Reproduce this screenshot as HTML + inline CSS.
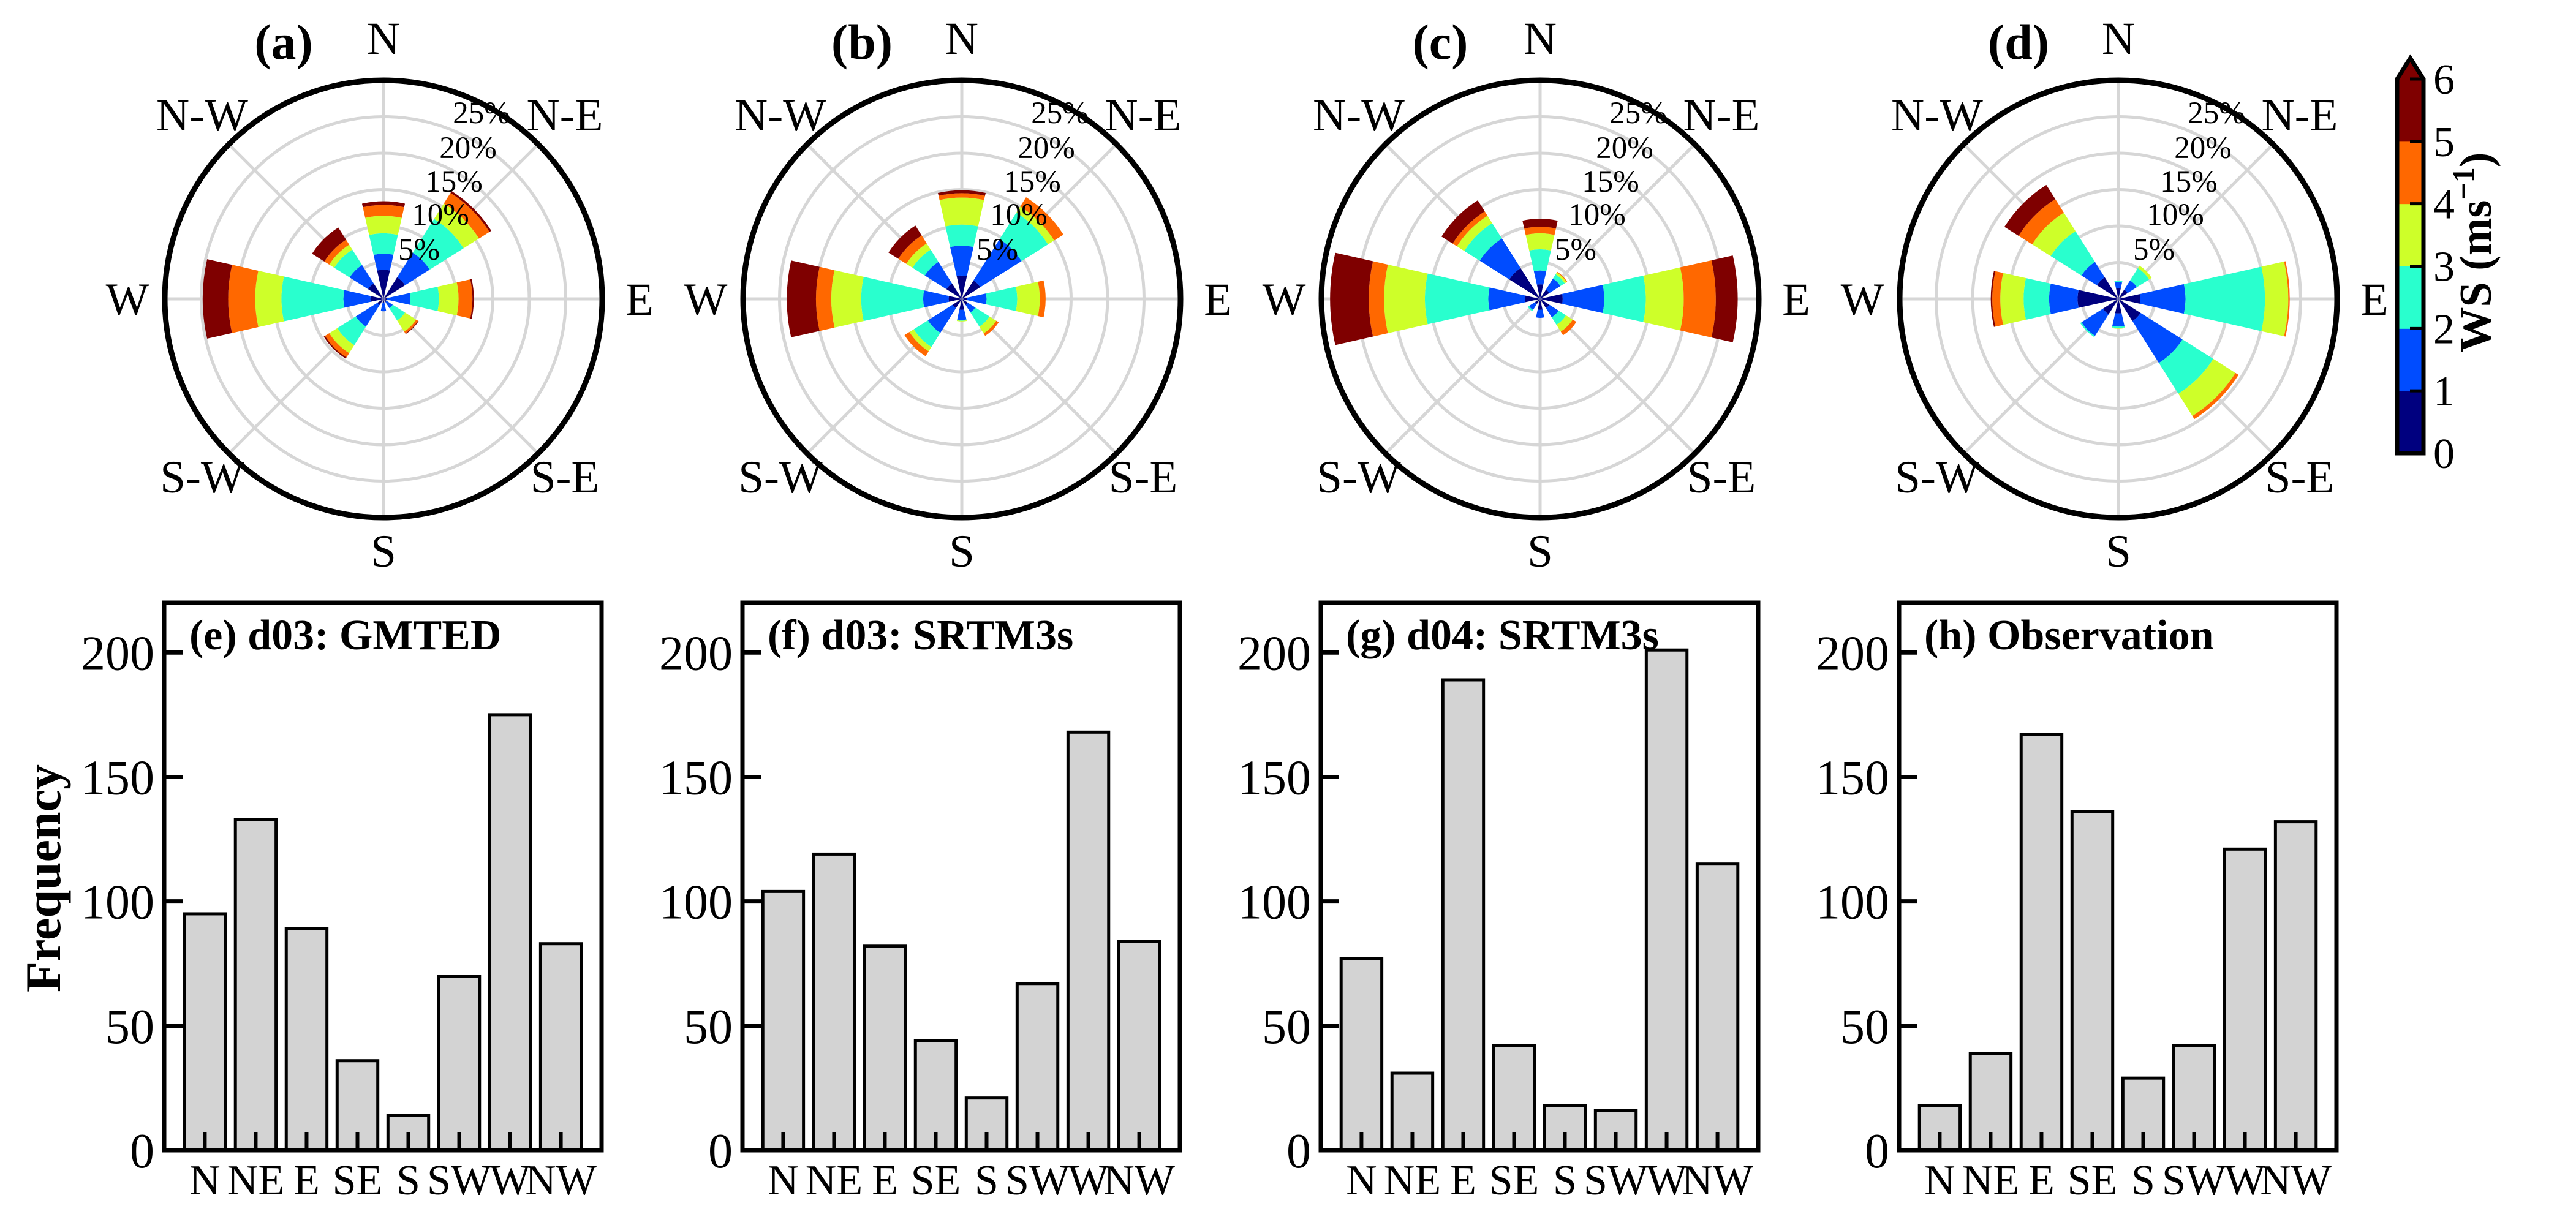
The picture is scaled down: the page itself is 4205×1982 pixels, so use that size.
<!DOCTYPE html>
<html><head><meta charset="utf-8">
<style>
html,body{margin:0;padding:0;background:#fff;}
svg{display:block;}
text{font-family:"Liberation Serif",serif;fill:#000;}
</style></head>
<body>
<svg id="fig" xmlns="http://www.w3.org/2000/svg" width="4205" height="1982" viewBox="0 0 4205 1982"></svg>
<script>
const directions = ['N','NE','E','SE','S','SW','W','NW'];
const compassLabels = ['N','N-E','E','S-E','S','S-W','W','N-W'];
const speedBins = [0,1,2,3,4,5,6];
const binColors = ['#00007f','#004cff','#29ffce','#ceff29','#ff6800','#7f0000'];
const ringLabels = ['5%','10%','15%','20%','25%'];
const ringValues = [5,10,15,20,25];
const roseMax = 30;
// cumulative % per direction (N..NW) per speed bin upper bound
const roseA = [
  [4.0,6.2,9.0,11.4,12.9,13.4],
  [3.5,7.5,13.0,15.5,17.2,17.5],
  [0.5,3.7,7.6,10.3,12.2,12.4],
  [0.5,1.5,3.5,5.3,5.6,5.7],
  [0.5,1.7,1.7,1.7,1.7,1.7],
  [1.0,4.5,7.5,8.8,9.5,9.7],
  [1.8,5.5,14.0,17.6,21.3,24.8],
  [2.5,5.5,8.0,8.8,9.6,11.6]
];
const roseB = [
  [3.2,7.3,10.2,13.9,14.5,14.9],
  [3.0,9.7,14.0,15.0,16.5,16.5],
  [0.7,3.4,7.6,10.7,11.5,11.5],
  [1.0,2.2,4.5,5.6,6.0,6.0],
  [1.5,2.9,3.0,3.1,3.1,3.1],
  [1.5,5.5,7.8,8.5,9.3,9.3],
  [1.8,5.3,13.8,17.9,20.0,24.0],
  [2.5,6.0,8.0,9.0,10.3,11.9]
];
const roseC = [
  [2.0,3.9,6.8,9.0,9.9,11.0],
  [1.5,3.3,4.0,4.3,4.4,4.4],
  [3.1,8.8,14.5,19.7,24.1,27.1],
  [1.5,3.0,4.2,5.3,5.9,5.9],
  [1.5,2.6,2.6,2.6,2.6,2.6],
  [0.8,1.8,2.0,2.0,2.0,2.0],
  [2.1,7.1,15.8,21.4,23.5,28.8],
  [5.0,9.8,12.3,13.5,14.2,16.0]
];
const roseD = [
  [1.5,2.3,2.5,2.5,2.5,2.5],
  [1.5,3.0,5.0,5.4,5.4,5.4],
  [3.0,9.2,20.1,23.3,23.5,23.5],
  [3.6,10.4,15.4,19.0,19.5,19.5],
  [2.0,3.8,4.0,4.1,4.1,4.1],
  [2.5,6.0,6.2,6.2,6.2,6.2],
  [5.6,9.5,13.0,16.2,17.3,17.5],
  [3.5,6.0,11.0,14.0,16.2,18.5]
];
const freqE = [95,133,89,36,14,70,175,83];
const freqF = [104,119,82,44,21,67,168,84];
const freqG = [77,31,189,42,18,16,201,115];
const freqH = [18,39,167,136,29,42,121,132];
const freqTicks = [0,50,100,150,200];
const freqTickLabels = ['0','50','100','150','200'];
const cbTickLabels = ['0','1','2','3','4','5','6'];

const NS='http://www.w3.org/2000/svg';
const svg=document.getElementById('fig');
function mk(tag,attrs,parent){const e=document.createElementNS(NS,tag);for(const k in attrs)e.setAttribute(k,attrs[k]);(parent||svg).appendChild(e);return e;}
function txt(s,attrs,parent){const e=mk('text',attrs,parent);e.textContent=s;return e;}

const R=357;
function rScale(v){return v/roseMax*R;}
function pol(cx,cy,r,degFromN){const a=degFromN*Math.PI/180;return [cx+r*Math.sin(a),cy-r*Math.cos(a)];}
function sector(cx,cy,r0,r1,a0,a1){
  const p1=pol(cx,cy,r1,a0),p2=pol(cx,cy,r1,a1),p3=pol(cx,cy,r0,a1),p4=pol(cx,cy,r0,a0);
  let d=`M${p1[0]},${p1[1]} A${r1},${r1} 0 0 1 ${p2[0]},${p2[1]} L${p3[0]},${p3[1]}`;
  if(r0>0) d+=` A${r0},${r0} 0 0 0 ${p4[0]},${p4[1]}`;
  return d+'Z';
}

const roses=[{d:roseA,l:'(a)'},{d:roseB,l:'(b)'},{d:roseC,l:'(c)'},{d:roseD,l:'(d)'}];
roses.forEach((ro,i)=>{
  const cx=626+944*i, cy=488;
  const g=mk('g',{});
  
  
  ringValues.forEach(v=>{
    const c=mk('circle',{cx:cx,cy:cy,r:rScale(v),fill:'none',stroke:'#d6d6d6','stroke-width':5},g);
    
    
  });
  for(let k=0;k<8;k++){
    const p=pol(cx,cy,R,k*45);
    const l=mk('line',{x1:cx,y1:cy,x2:p[0],y2:p[1],stroke:'#d6d6d6','stroke-width':5},g);
    
    
  }
  ro.d.forEach((cum,di)=>{
    const ang=di*45, hw=12.7;
    let prev=0;
    cum.forEach((v,bi)=>{
      if(v>prev){
        const p=mk('path',{d:sector(cx,cy,rScale(prev),rScale(v),ang-hw,ang+hw),fill:binColors[bi]},g);
        
        
      }
      prev=Math.max(prev,v);
    });
  });
  const oc=mk('circle',{cx:cx,cy:cy,r:R,fill:'none',stroke:'#000','stroke-width':9},g);
  
  
  const lp=[[0,-426],[296,-301],[418,0],[296,290],[0,411],[-296,290],[-418,0],[-296,-301]];
  compassLabels.forEach((s,k)=>{
    const t=txt(s,{x:cx+lp[k][0],y:cy+lp[k][1]+26,'font-size':75,'text-anchor':'middle'},g);
    
    
  });
  const rp=[[58,-81],[93,-138],[115,-192],[138,-247],[160,-304]];
  ringLabels.forEach((s,k)=>{
    const t=txt(s,{x:cx+rp[k][0],y:cy+rp[k][1]+17,'font-size':51,'text-anchor':'middle'},g);
    
    
  });
  const pl=txt(ro.l,{x:cx-163,y:96,'font-size':82,'font-weight':'bold','text-anchor':'middle'},g);
  
  
});

// colorbar
(function(){
  const g=mk('g',{});
  
  
  const x0=3913,x1=3956,yTop=129,yBot=740;
  const unit=(yBot-yTop)/6;
  function yv(v){return yBot-v*unit;}
  for(let b=0;b<6;b++){
    const r=mk('rect',{x:x0,y:yv(speedBins[b+1]),width:x1-x0,height:unit+0.5,fill:binColors[b]},g);
    
    
  }
  const tri=mk('polygon',{points:`${x0},${yTop} ${(x0+x1)/2},${yTop-34} ${x1},${yTop}`,fill:binColors[5]},g);
  
  
  const ol=mk('polygon',{points:`${x0},${yBot} ${x0},${yTop} ${(x0+x1)/2},${yTop-34} ${x1},${yTop} ${x1},${yBot}`,fill:'none',stroke:'#000','stroke-width':7},g);
  
  
  cbTickLabels.forEach((s,k)=>{
    const y=yv(speedBins[k]);
    if(k>0){const tl=mk('line',{x1:x1-22,y1:y,x2:x1,y2:y,stroke:'#000','stroke-width':5},g);
      
      }
    const t=txt(s,{x:3972,y:y+24,'font-size':70,'text-anchor':'start'},g);
    
    
  });
  const lab=txt('',{x:0,y:0,'font-size':74,'font-weight':'bold','text-anchor':'middle',transform:'translate(4066,412) rotate(-90)'},g);
  
  
  lab.innerHTML='WS (ms<tspan font-size="50" dy="-28">−1</tspan><tspan dy="28">)</tspan>';
})();

// bar charts
const bars=[{d:freqE,t:'(e) d03: GMTED'},{d:freqF,t:'(f) d03: SRTM3s'},{d:freqG,t:'(g) d04: SRTM3s'},{d:freqH,t:'(h) Observation'}];
const yMax=220, axTop=984, axBot=1878;
function yScale(v){return axBot-v/yMax*(axBot-axTop);}
bars.forEach((b,i)=>{
  const L=268+944*i, Rr=982+944*i;
  const g=mk('g',{});
  
  
  function xScale(k){return L+(k+0.8)/8.6*(Rr-L);}
  const bw=0.8/8.6*(Rr-L);
  b.d.forEach((v,k)=>{
    const r=mk('rect',{x:xScale(k)-bw/2,y:yScale(v),width:bw,height:axBot-yScale(v),fill:'#d3d3d3',stroke:'#000','stroke-width':5},g);
    
    
    const tk=mk('line',{x1:xScale(k),y1:axBot,x2:xScale(k),y2:axBot-30,stroke:'#000','stroke-width':6},g);
    
    
    const t=txt(directions[k],{x:xScale(k),y:1950,'font-size':70,'text-anchor':'middle'},g);
    
    
  });
  freqTicks.forEach((v,k)=>{
    const y=yScale(v);
    const tk=mk('line',{x1:L,y1:y,x2:L+30,y2:y,stroke:'#000','stroke-width':7},g);
    
    
    const t=txt(freqTickLabels[k],{x:L-16,y:y+28,'font-size':80,'text-anchor':'end'},g);
    
    
  });
  const fr=mk('rect',{x:L,y:axTop,width:Rr-L,height:axBot-axTop,fill:'none',stroke:'#000','stroke-width':7},g);
  
  
  const tt=txt(b.t,{x:L+41,y:1060,'font-size':70,'font-weight':'bold'},g);
  
  
});
const fy=txt('Frequency',{x:0,y:0,'font-size':82,'font-weight':'bold','text-anchor':'middle',transform:'translate(98,1434) rotate(-90)'});


</script>
</body></html>
